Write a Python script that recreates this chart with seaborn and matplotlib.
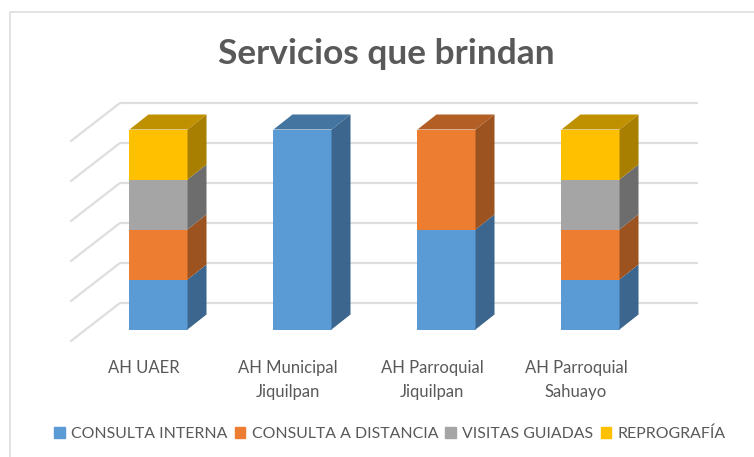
import matplotlib
matplotlib.use("Agg")
import matplotlib.pyplot as plt
import numpy as np
import pandas as pd
import seaborn as sns
from matplotlib.patches import Patch

archivos = ["AH UAER", "AH Municipal\nJiquilpan", "AH Parroquial\nJiquilpan", "AH Parroquial\nSahuayo"]
consulta_interna = [25, 100, 50, 25]
consulta_distancia = [25, 0, 50, 25]
visitas_guiadas = [25, 0, 0, 25]
reprografia = [25, 0, 0, 25]
series = ["CONSULTA INTERNA", "CONSULTA A DISTANCIA", "VISITAS GUIADAS", "REPROGRAFÍA"]
colores = ["#5B9BD5", "#ED7D31", "#A5A5A5", "#FFC000"]
marcas_y = [0, 20, 40, 60, 80, 100]

gris_texto = "#595959"
gris_linea = "#DEDEDE"
ancho = 0.403
prof_x, prof_y = 19 / 144, 7.5  # fondo de la barra en 3d
pared_x, pared_y = 49 / 144, 19.0  # fondo de la pared

sns.set_style("white")
plt.rcParams["font.family"] = ["Lato", "DejaVu Sans"]


def oscurecer(color, f):
    rgb = np.array(matplotlib.colors.to_rgb(color))
    return tuple(rgb * f)


fig = plt.figure(figsize=(7.54, 4.57), dpi=100)
ax = fig.add_axes([0, (457 - 341) / 457, 1, 341 / 457])

df = pd.DataFrame({"archivo": archivos, series[0]: consulta_interna, series[1]: consulta_distancia,
                   series[2]: visitas_guiadas, series[3]: reprografia})

# lineas de la pared y el piso
for v in marcas_y:
    y0 = v - 5.75
    ax.plot([-0.608, -0.608 + pared_x, 3.74], [y0, y0 + pared_y, y0 + pared_y],
            color=gris_linea, lw=1.6, zorder=1, clip_on=False)

base = np.zeros(len(archivos))
for serie, color in zip(series, colores):
    valores = df[serie].to_numpy(dtype=float)
    sns.barplot(data=df, x="archivo", y=serie, bottom=base, color=color, width=ancho,
                saturation=1, errorbar=None, ax=ax, zorder=3, linewidth=0)
    tope = base + valores
    for i, h in enumerate(valores):
        if h == 0:
            continue
        der = i + ancho / 2
        izq = i - ancho / 2
        # cara lateral
        ax.fill([der, der + prof_x, der + prof_x, der],
                [base[i], base[i] + prof_y, tope[i] + prof_y, tope[i]],
                color=oscurecer(color, 0.66), lw=0, zorder=3)
        # cara de arriba, solo en el ultimo segmento
        if tope[i] == 100:
            ax.fill([izq, izq + prof_x, der + prof_x, der],
                     [100, 100 + prof_y, 100 + prof_y, 100],
                     color=oscurecer(color, 0.75), lw=0, zorder=3)
    base = tope

ax.set_xlim(-158.5 / 144, (754 - 158.5) / 144)
ax.set_ylim((329.5 - 341) / 2, 329.5 / 2)
ax.set_xticks(np.arange(len(archivos)) - 0.1)
ax.set_xticklabels(archivos, color=gris_texto, fontsize=12.0, linespacing=1.6)
ax.tick_params(axis="x", length=0, pad=13.5)
ax.set_xlabel("")
ax.set_ylabel("")
ax.set_yticks([])
sns.despine(ax=ax, left=True, bottom=True)
ax.patch.set_alpha(0)

# borde del grafico: solo arriba e izquierda
fig.add_artist(plt.Line2D([9.5 / 754, 9.5 / 754, 1], [0, 1 - 11.5 / 457, 1 - 11.5 / 457],
                          transform=fig.transFigure, color=gris_linea, lw=1.2))
fig.text(386.5 / 754, 1 - 54 / 457, "Servicios que brindan", ha="center", va="center",
         fontsize=25.4, fontweight="bold", color=gris_texto)

handles = [Patch(color=c, label=s) for c, s in zip(colores, series)]
fig.legend(handles=handles, loc="center", bbox_to_anchor=(390 / 754, 1 - 434 / 457), ncol=4,
           frameon=False, fontsize=11.4, labelcolor=gris_texto, handlelength=0.68, handleheight=0.68,
           handletextpad=0.4, columnspacing=0.45, borderpad=0)

fig.savefig("out.png", dpi=100)
